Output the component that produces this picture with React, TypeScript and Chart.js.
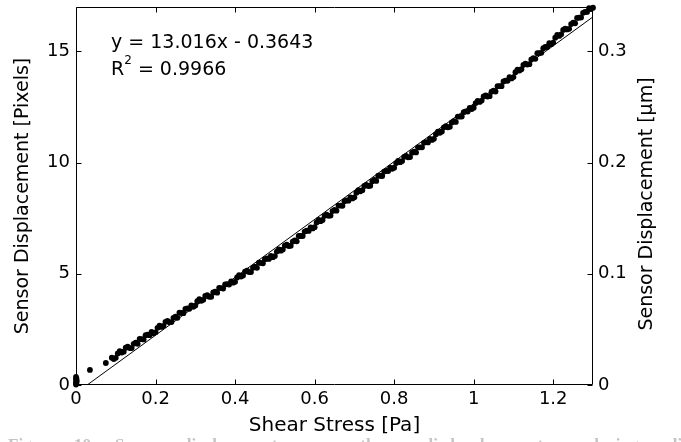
import React, { useEffect, useRef } from "react";
import { Chart, registerables } from "chart.js";

Chart.register(...registerables);

// ---- data ----
const zeroStressPa = [0, 0.001, 0, 0.002, 0, 0.001, 0];
const zeroDisplacementPx = [0.02, 0.07, 0.12, 0.18, 0.24, 0.3, 0.36];

const earlyStressPa = [0.035, 0.075];
const earlyDisplacementPx = [0.68, 0.99];

const rampAStressPa = [
  0.09, 0.1, 0.11, 0.12, 0.13, 0.14, 0.15, 0.16, 0.17, 0.18,
  0.19, 0.2, 0.21, 0.22, 0.23, 0.24, 0.25, 0.26, 0.27, 0.28,
  0.29, 0.3, 0.31, 0.32, 0.33, 0.34, 0.35, 0.36, 0.37, 0.38,
  0.39, 0.4, 0.41, 0.42, 0.43, 0.44, 0.45, 0.46, 0.47, 0.48,
  0.49, 0.5, 0.51, 0.52, 0.53, 0.54, 0.55, 0.56, 0.57, 0.58,
  0.59, 0.6, 0.61, 0.62, 0.63, 0.64, 0.65, 0.66, 0.67, 0.68,
  0.69, 0.7, 0.71, 0.72, 0.73, 0.74, 0.75, 0.76, 0.77, 0.78,
  0.79, 0.8, 0.81, 0.82, 0.83, 0.84, 0.85, 0.86, 0.87, 0.88,
  0.89, 0.9, 0.91, 0.92, 0.93, 0.94, 0.95, 0.96, 0.97, 0.98,
  0.99, 1.0, 1.01, 1.02, 1.03, 1.04, 1.05, 1.06, 1.07, 1.08,
  1.09, 1.1, 1.11, 1.12, 1.13, 1.14, 1.15, 1.16, 1.17, 1.18,
  1.19, 1.2, 1.21, 1.22, 1.23, 1.24, 1.25, 1.26, 1.27, 1.28,
  1.29, 1.3,
];
const rampADisplacementPx = [
  1.23, 1.22, 1.52, 1.5, 1.72, 1.66, 1.9, 2.07, 2.05, 2.26,
  2.39, 2.37, 2.67, 2.66, 2.88, 2.83, 3.07, 3.25, 3.23, 3.45,
  3.58, 3.57, 3.86, 3.83, 4.04, 3.97, 4.2, 4.37, 4.34, 4.54,
  4.66, 4.64, 4.94, 4.92, 5.14, 5.08, 5.32, 5.5, 5.47, 5.69,
  5.81, 5.8, 6.1, 6.09, 6.31, 6.26, 6.5, 6.7, 6.7, 6.94,
  7.09, 7.1, 7.42, 7.42, 7.66, 7.62, 7.88, 8.07, 8.06, 8.3,
  8.44, 8.44, 8.76, 8.76, 9.0, 8.96, 9.22, 9.41, 9.4, 9.63,
  9.77, 9.77, 10.08, 10.07, 10.3, 10.25, 10.5, 10.69, 10.69, 10.92,
  11.07, 11.07, 11.39, 11.4, 11.64, 11.61, 11.87, 12.07, 12.07, 12.31,
  12.46, 12.47, 12.78, 12.79, 13.02, 12.99, 13.24, 13.44, 13.44, 13.69,
  13.84, 13.85, 14.18, 14.2, 14.45, 14.43, 14.7, 14.92, 14.94, 15.2,
  15.37, 15.4, 15.74, 15.77, 16.03, 16.02, 16.3, 16.51, 16.53, 16.78,
  16.95, 16.97,
];

const rampBStressPa = [
  0.095, 0.105, 0.115, 0.125, 0.135, 0.145, 0.155, 0.165, 0.175, 0.185,
  0.195, 0.205, 0.215, 0.225, 0.235, 0.245, 0.255, 0.265, 0.275, 0.285,
  0.295, 0.305, 0.315, 0.325, 0.335, 0.345, 0.355, 0.365, 0.375, 0.385,
  0.395, 0.405, 0.415, 0.425, 0.435, 0.445, 0.455, 0.465, 0.475, 0.485,
  0.495, 0.505, 0.515, 0.525, 0.535, 0.545, 0.555, 0.565, 0.575, 0.585,
  0.595, 0.605, 0.615, 0.625, 0.635, 0.645, 0.655, 0.665, 0.675, 0.685,
  0.695, 0.705, 0.715, 0.725, 0.735, 0.745, 0.755, 0.765, 0.775, 0.785,
  0.795, 0.805, 0.815, 0.825, 0.835, 0.845, 0.855, 0.865, 0.875, 0.885,
  0.895, 0.905, 0.915, 0.925, 0.935, 0.945, 0.955, 0.965, 0.975, 0.985,
  0.995, 1.005, 1.015, 1.025, 1.035, 1.045, 1.055, 1.065, 1.075, 1.085,
  1.095, 1.105, 1.115, 1.125, 1.135, 1.145, 1.155, 1.165, 1.175, 1.185,
  1.195, 1.205, 1.215, 1.225, 1.235, 1.245, 1.255, 1.265, 1.275, 1.285,
  1.295,
];
const rampBDisplacementPx = [
  1.17, 1.42, 1.46, 1.68, 1.66, 1.85, 1.85, 2.06, 2.24, 2.24,
  2.33, 2.57, 2.61, 2.84, 2.82, 3.02, 3.02, 3.24, 3.42, 3.43,
  3.52, 3.77, 3.79, 4.01, 3.97, 4.16, 4.15, 4.36, 4.52, 4.52,
  4.6, 4.84, 4.88, 5.1, 5.08, 5.27, 5.27, 5.49, 5.66, 5.67,
  5.75, 6.0, 6.04, 6.27, 6.25, 6.45, 6.46, 6.7, 6.9, 6.93,
  7.04, 7.31, 7.37, 7.61, 7.61, 7.82, 7.84, 8.07, 8.26, 8.29,
  8.39, 8.65, 8.71, 8.95, 8.95, 9.16, 9.18, 9.41, 9.6, 9.62,
  9.72, 9.98, 10.02, 10.26, 10.24, 10.45, 10.46, 10.69, 10.89, 10.91,
  11.02, 11.28, 11.34, 11.59, 11.59, 11.81, 11.83, 12.07, 12.27, 12.3,
  12.41, 12.68, 12.73, 12.98, 12.97, 13.19, 13.2, 13.44, 13.65, 13.68,
  13.79, 14.07, 14.14, 14.4, 14.41, 14.64, 14.67, 14.93, 15.15, 15.2,
  15.33, 15.62, 15.7, 15.97, 15.99, 16.23, 16.27, 16.52, 16.74, 16.78,
  16.91,
];

// linear fit y = 13.016x - 0.3643, end points
const fitStressPa = [0.028, 1.3];
const fitDisplacementPx = [0.0, 16.557];

const xTickValues = [0, 0.2, 0.4, 0.6, 0.8, 1, 1.2];
const pxTickValues = [0, 5, 10, 15];
const umTickValues = [0, 0.1, 0.2, 0.3];

const xMax = 1.3;
const pxMax = 17;
const umMax = 0.34;

const xTitle = "Shear Stress [Pa]";
const leftTitle = "Sensor Displacement [Pixels]";
const rightTitle = "Sensor Displacement [\u03BCm]";
const fitEquation = "y = 13.016x - 0.3643";
const fitR2Value = " = 0.9966";
const captionText =
  "Figure 10: Sensor displacement versus the applied shear stress during calibration";

const FONT = '"DejaVu Sans", Verdana, sans-serif';

function toPoints(xs: number[], ys: number[]) {
  return xs.map((x, i) => ({ x, y: ys[i] }));
}

const decorPlugin = {
  id: "decor",
  afterDatasetsDraw(chart: any) {
    const { ctx, chartArea: a, scales } = chart;
    const L = Math.round(a.left) + 0.5;
    const R = Math.round(a.right) - 0.5;
    const T = Math.round(a.top) + 0.5;
    const B = Math.round(a.bottom) - 0.5;
    ctx.save();
    ctx.strokeStyle = "#000";
    ctx.lineWidth = 1;
    ctx.beginPath();
    ctx.rect(L, T, R - L, B - T);
    const tl = 5;
    xTickValues.forEach((v) => {
      const px = Math.round(scales.x.getPixelForValue(v)) + 0.5;
      ctx.moveTo(px, B);
      ctx.lineTo(px, B - tl);
      ctx.moveTo(px, T);
      ctx.lineTo(px, T + tl);
    });
    pxTickValues.forEach((v) => {
      const py = Math.round(scales.y.getPixelForValue(v)) + 0.5;
      ctx.moveTo(L, py);
      ctx.lineTo(L + tl, py);
    });
    umTickValues.forEach((v) => {
      const py = Math.round(scales.y2.getPixelForValue(v)) + 0.5;
      ctx.moveTo(R, py);
      ctx.lineTo(R - tl, py);
    });
    ctx.stroke();
    ctx.restore();
  },
  afterDraw(chart: any) {
    const { ctx, chartArea: a } = chart;
    ctx.save();
    ctx.fillStyle = "#000";
    ctx.textBaseline = "alphabetic";
    // axis titles
    ctx.textAlign = "center";
    ctx.font = `20px ${FONT}`;
    ctx.fillText(xTitle, (a.left + a.right) / 2, 431);
    const cy = (a.top + a.bottom) / 2;
    ctx.font = `19px ${FONT}`;
    ctx.save();
    ctx.translate(28, cy);
    ctx.rotate(-Math.PI / 2);
    ctx.fillText(leftTitle, 0, 0);
    ctx.restore();
    ctx.save();
    ctx.translate(652, cy + 8);
    ctx.rotate(-Math.PI / 2);
    ctx.fillText(rightTitle, 0, 0);
    ctx.restore();

    // fit annotation
    const ax = a.left + 35;
    ctx.textAlign = "left";
    ctx.font = `19px ${FONT}`;
    ctx.fillText(fitEquation, ax, a.top + 41);
    const by = a.top + 68;
    ctx.fillText("R", ax, by);
    let w = ctx.measureText("R").width;
    ctx.font = `12px ${FONT}`;
    ctx.fillText("2", ax + w, by - 11);
    w += ctx.measureText("2").width;
    ctx.font = `19px ${FONT}`;
    ctx.fillText(fitR2Value, ax + w, by);
    ctx.restore();
  },
};

export default function App() {
  const ref = useRef<HTMLCanvasElement>(null);

  useEffect(() => {
    if (!ref.current) return;
    const tickFont = { family: FONT, size: 18 };
    const chart = new Chart(ref.current, {
      type: "scatter",
      data: {
        datasets: [
          {
            label: "measured",
            data: [
              ...toPoints(zeroStressPa, zeroDisplacementPx),
              ...toPoints(earlyStressPa, earlyDisplacementPx),
              ...toPoints(rampAStressPa, rampADisplacementPx),
              ...toPoints(rampBStressPa, rampBDisplacementPx),
            ],
            backgroundColor: "#000",
            borderWidth: 0,
            pointRadius: 2.9,
            pointHoverRadius: 2.9,
            clip: false as any,
          },
          {
            label: "fit",
            data: toPoints(fitStressPa, fitDisplacementPx),
            showLine: true,
            borderColor: "#000",
            borderWidth: 1,
            pointRadius: 0,
            fill: false,
          } as any,
        ],
      },
      options: {
        responsive: false,
        maintainAspectRatio: false,
        devicePixelRatio: 1,
        animation: false,
        events: [],
        layout: { padding: { top: 7, left: 0, right: 0, bottom: 0 } },
        plugins: { legend: { display: false }, tooltip: { enabled: false } },
        scales: {
          x: {
            type: "linear",
            position: "bottom",
            min: 0,
            max: xMax,
            afterBuildTicks: (s: any) => {
              s.ticks = xTickValues.map((value) => ({ value }));
            },
            afterFit: (s: any) => {
              s.height = 57;
              s.paddingLeft = 0;
              s.paddingRight = 0;
            },
            ticks: {
              padding: 4,
              color: "#000",
              font: tickFont,
              maxRotation: 0,
              autoSkip: false,
              callback: (v: any) => String(v),
            },
            grid: { display: false, drawTicks: false },
            border: { display: false },
          },
          y: {
            type: "linear",
            position: "left",
            min: 0,
            max: pxMax,
            afterBuildTicks: (s: any) => {
              s.ticks = pxTickValues.map((value) => ({ value }));
            },
            afterFit: (s: any) => {
              s.width = 76;
              s.paddingTop = 0;
              s.paddingBottom = 0;
            },
            ticks: {
              padding: 6,
              color: "#000",
              font: tickFont,
              autoSkip: false,
              callback: (v: any) => String(v),
            },
            grid: { display: false, drawTicks: false },
            border: { display: false },
          },
          y2: {
            type: "linear",
            position: "right",
            min: 0,
            max: umMax,
            afterBuildTicks: (s: any) => {
              s.ticks = umTickValues.map((value) => ({ value }));
            },
            afterFit: (s: any) => {
              s.width = 88;
              s.paddingTop = 0;
              s.paddingBottom = 0;
            },
            ticks: {
              padding: 5,
              color: "#000",
              font: tickFont,
              autoSkip: false,
              callback: (v: any) => String(v),
            },
            grid: { display: false, drawTicks: false },
            border: { display: false },
          },
        },
      } as any,
      plugins: [decorPlugin],
    });
    return () => chart.destroy();
  }, []);

  return (
    <div
      style={{
        position: "absolute",
        left: 0,
        top: 0,
        width: 681,
        height: 442,
        overflow: "hidden",
        background: "#fff",
      }}
    >
      <canvas
        ref={ref}
        width={681}
        height={442}
        style={{ position: "absolute", left: 0, top: 0, width: 681, height: 442 }}
      />
      <div
        style={{
          position: "absolute",
          left: 8,
          top: 435,
          whiteSpace: "nowrap",
          fontFamily: '"Liberation Serif", "Times New Roman", serif',
          fontSize: 17,
          fontWeight: "bold",
          lineHeight: "20px",
          color: "#c4c4c4",
          wordSpacing: 14,
        }}
      >
        {captionText}
      </div>
    </div>
  );
}
